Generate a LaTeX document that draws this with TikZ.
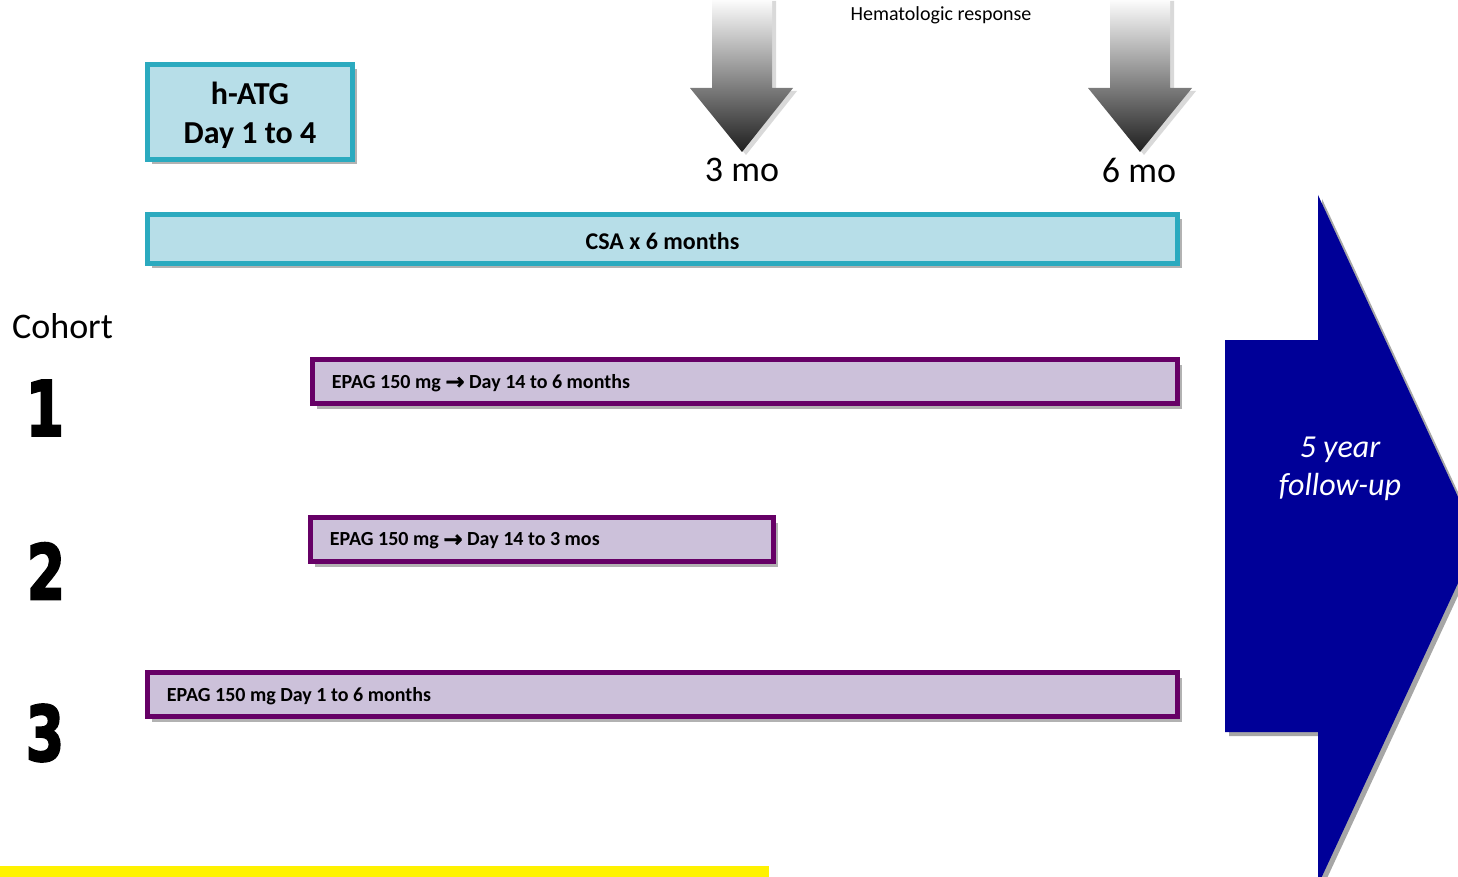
\documentclass[tikz,border=0pt]{standalone}
\usepackage{fontspec}
\usepackage{graphicx}
\setmainfont{Carlito}
\newfontfamily\symfont{DejaVu Sans}[BoldFeatures={FakeBold=1.2}]
\newfontfamily\numfont{DejaVu Sans}[BoldFeatures={FakeBold=3}]
\usetikzlibrary{shadows}
\definecolor{tealb}{RGB}{43,170,191}
\definecolor{lblue}{RGB}{183,222,232}
\definecolor{purp}{RGB}{102,0,102}
\definecolor{lpurp}{RGB}{204,193,218}
\definecolor{navyb}{RGB}{0,0,152}
\tikzset{
  shad/.style={drop shadow={shadow xshift=4pt, shadow yshift=-5pt, fill=black, opacity=0.3}},
  atgbox/.style={draw=tealb, fill=lblue, line width=5pt, inner sep=0pt, shad},
  csabox/.style={draw=tealb, fill=lblue, line width=5pt, inner sep=0pt, shad},
  epagbox/.style={draw=purp, fill=lpurp, line width=5.5pt, inner sep=0pt, shad},
  epaglbl/.style={anchor=west, inner sep=0pt, font=\bfseries\fontsize{20}{24}\selectfont},
  bigtxt/.style={inner sep=0pt, font=\fontsize{36}{40}\selectfont},
  numtxt/.style={inner sep=0pt},
  grayarrow/.style={top color=white, bottom color=black!88,
    drop shadow={shadow xshift=4pt, shadow yshift=-3pt, fill=black, opacity=0.15}},
  bluearrow/.style={fill=navyb,
    drop shadow={shadow xshift=4pt, shadow yshift=-4pt, fill=black, opacity=0.35}},
}
\newcommand{\bignum}[1]{\scalebox{1}[1.38]{\numfont\bfseries\fontsize{55}{55}\selectfont #1}}
\newcommand{\rarr}{\raisebox{-1pt}{\symfont\bfseries\fontsize{23}{24}\selectfont →}}
\begin{document}
\begin{tikzpicture}[x=1pt,y=-1pt]
\useasboundingbox (0,0) rectangle (1458,877);
\clip (0,0) rectangle (1458,877);

% gray arrows (hematologic response)
\path[grayarrow] (712,-2) -- (772,-2) -- (772,88) -- (793,88) -- (742,152) -- (690,88) -- (712,88) -- cycle;
\path[grayarrow] (1110,-2) -- (1170,-2) -- (1170,88) -- (1192,88) -- (1140,152) -- (1088,88) -- (1110,88) -- cycle;
\node[inner sep=0pt, font=\fontsize{20}{22}\selectfont] (hr) at (941,15) {Hematologic response};
\node[bigtxt] (m3) at (742,170) {3 mo};
\node[bigtxt] (m6) at (1139,170) {6 mo};

% h-ATG and CSA
\node[atgbox, minimum width=205, minimum height=95] (atg) at (250,112) {};
\node[inner sep=0pt, font=\bfseries\fontsize{32}{39}\selectfont, align=center] (atgl) at (250,115) {h-ATG\\Day 1 to 4};
\node[csabox, minimum width=1030, minimum height=49] (csa) at (662.5,239) {};
\node[inner sep=0pt, font=\bfseries\fontsize{24}{28}\selectfont] (csal) at (662.5,241) {CSA x 6 months};

% cohort label
\node[bigtxt, anchor=west] (coh) at (12,326) {Cohort};

% EPAG bars
\node[epagbox, minimum width=865, minimum height=44] (e1) at (745,381.5) {};
\node[epaglbl] (e1l) at ([xshift=22pt, yshift=-1.5pt]e1.west) {EPAG 150 mg \rarr\ Day 14 to 6 months};
\node[epagbox, minimum width=463, minimum height=44] (e2) at (542,539.5) {};
\node[epaglbl] (e2l) at ([xshift=22pt, yshift=-1.5pt]e2.west) {EPAG 150 mg \rarr\ Day 14 to 3 mos};
\node[epagbox, minimum width=1030, minimum height=44] (e3) at (662.5,694.5) {};
\node[epaglbl] (e3l) at ([xshift=22pt, yshift=-1.5pt]e3.west) {EPAG 150 mg Day 1 to 6 months};

% cohort numbers
\node[numtxt] (n1) at (45,408) {\bignum{1}};
\node[numtxt] (n2) at (46,571) {\bignum{2}};
\node[numtxt] (n3) at (45,733) {\bignum{3}};

% follow-up arrow
\path[bluearrow] (1225,340) -- (1318,340) -- (1318,195) -- (1478,540) -- (1318,885) -- (1318,732) -- (1225,732) -- cycle;
\node[inner sep=0pt, text=white, align=center, font=\itshape\fontsize{32}{38}\selectfont] (fu) at (1340,469) {5 year\\follow-up};

% yellow strip
\fill[yellow] (0,866) rectangle (769,877);
\end{tikzpicture}
\end{document}
